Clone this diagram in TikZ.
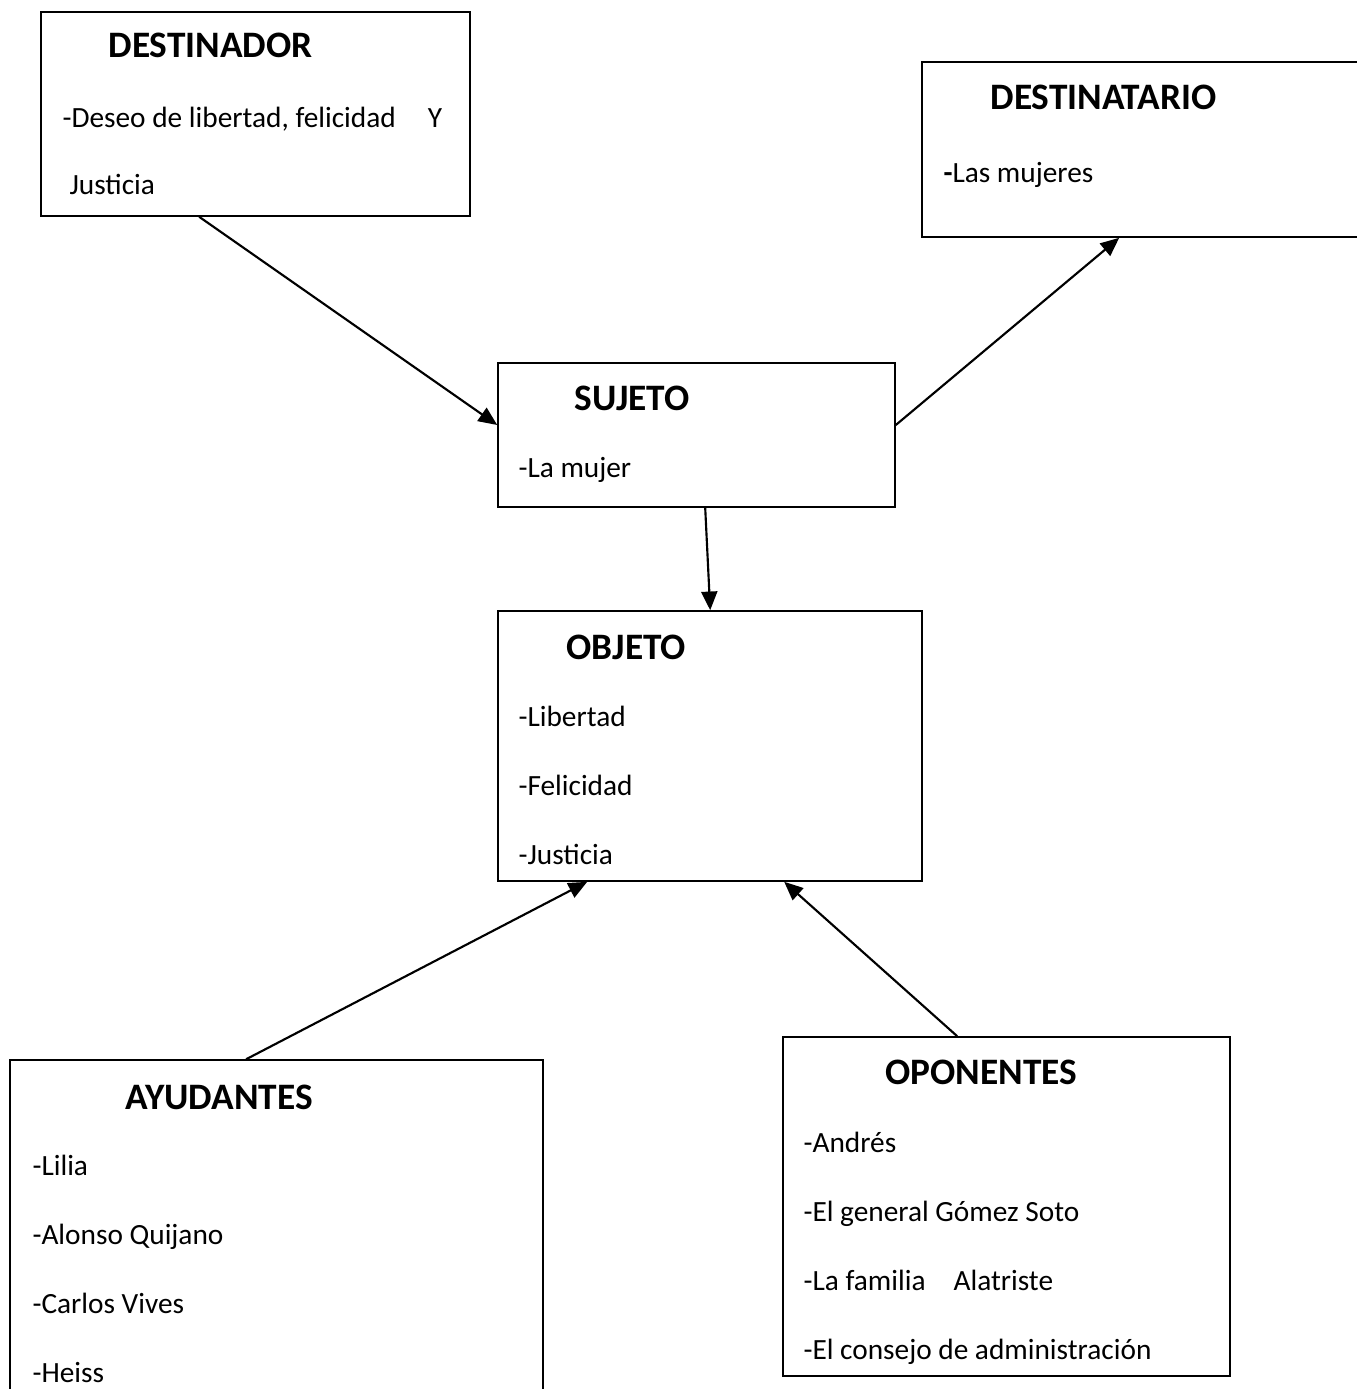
\documentclass[tikz,border=0pt]{standalone}
\usepackage{fontspec}
\setmainfont{Carlito}
\usetikzlibrary{calc,fit,arrows.meta}

\tikzstyle{box} = [rectangle, draw=black, line width=0.6pt, inner sep=0pt]
\tikzstyle{head} = [anchor=base west, inner sep=0pt, font=\fontsize{14pt}{17pt}\selectfont\bfseries]
\tikzstyle{item} = [anchor=base west, inner sep=0pt, font=\fontsize{11pt}{13pt}\selectfont]
\tikzstyle{arrow} = [line width=0.8pt,-{Triangle[length=7pt,width=6pt]}]

\begin{document}
\begin{tikzpicture}[x=0.375pt,y=-0.375pt]
			\useasboundingbox (0,0) rectangle (1357,1389);
			
			% boxes
			\node (destinador) [box, fit={(41,12) (470,216)}] {};
			\node (destinatario) [box, fit={(922,62) (1380,237)}] {};
			\node (sujeto) [box, fit={(498,363) (895,507)}] {};
			\node (objeto) [box, fit={(498,611) (922,881)}] {};
			\node (ayudantes) [box, fit={(10,1060) (543,1400)}] {};
			\node (oponentes) [box, fit={(783,1037) (1230,1376)}] {};
			
			% texts
			\node (destinadorhead) [head] at (108,57) {DESTINADOR};
			\node (deseo) [item] at (62,127) {-Deseo de libertad, felicidad\hspace{12pt}Y};
			\node (justicia) [item] at (69,194) {Justicia};
			
			\node (destinatariohead) [head] at (990,109) {DESTINATARIO};
			\node (mujeres) [item] at (943,182) {\textbf{-}Las mujeres};
			
			\node (sujetohead) [head] at (574,410) {SUJETO};
			\node (mujer) [item] at (518,477) {-La mujer};
			
			\node (objetohead) [head] at (566,659) {OBJETO};
			\foreach \t [count=\i] in {-Libertad, -Felicidad, -Justicia}
				\node (obj\i) [item] at (518,726+69*\i-69) {\t};
			
			\node (ayudanteshead) [head] at (125,1109) {AYUDANTES};
			\foreach \t [count=\i] in {-Lilia, -Alonso Quijano, -Carlos Vives, -Heiss}
				\node (ayu\i) [item] at (32,1175+69.3*\i-69.3) {\t};
			
			\node (oponenteshead) [head] at (885,1084) {OPONENTES};
			\foreach \t [count=\i] in {-Andrés, -El general Gómez Soto, -La familia\hspace{10.5pt}Alatriste, -El consejo de administración}
				\node (opo\i) [item] at (803,1152+69*\i-69) {\t};
			
			% arrows
			\draw [arrow] ($(destinador.south west)+(159,0)$) -- ($(sujeto.west)+(0,-10)$);
			\draw [arrow] ($(sujeto.east)+(0,-10)$) -- ($(destinatario.south west)+(198,0)$);
			\draw [arrow] ($(sujeto.south west)+(208,0)$) -- ($(objeto.north west)+(213,0)$);
			\draw [arrow] ($(ayudantes.north west)+(237,0)$) -- ($(objeto.south west)+(90,0)$);
			\draw [arrow] ($(oponentes.north west)+(175,0)$) -- ($(objeto.south west)+(287,0)$);
			
\end{tikzpicture}
\end{document}
